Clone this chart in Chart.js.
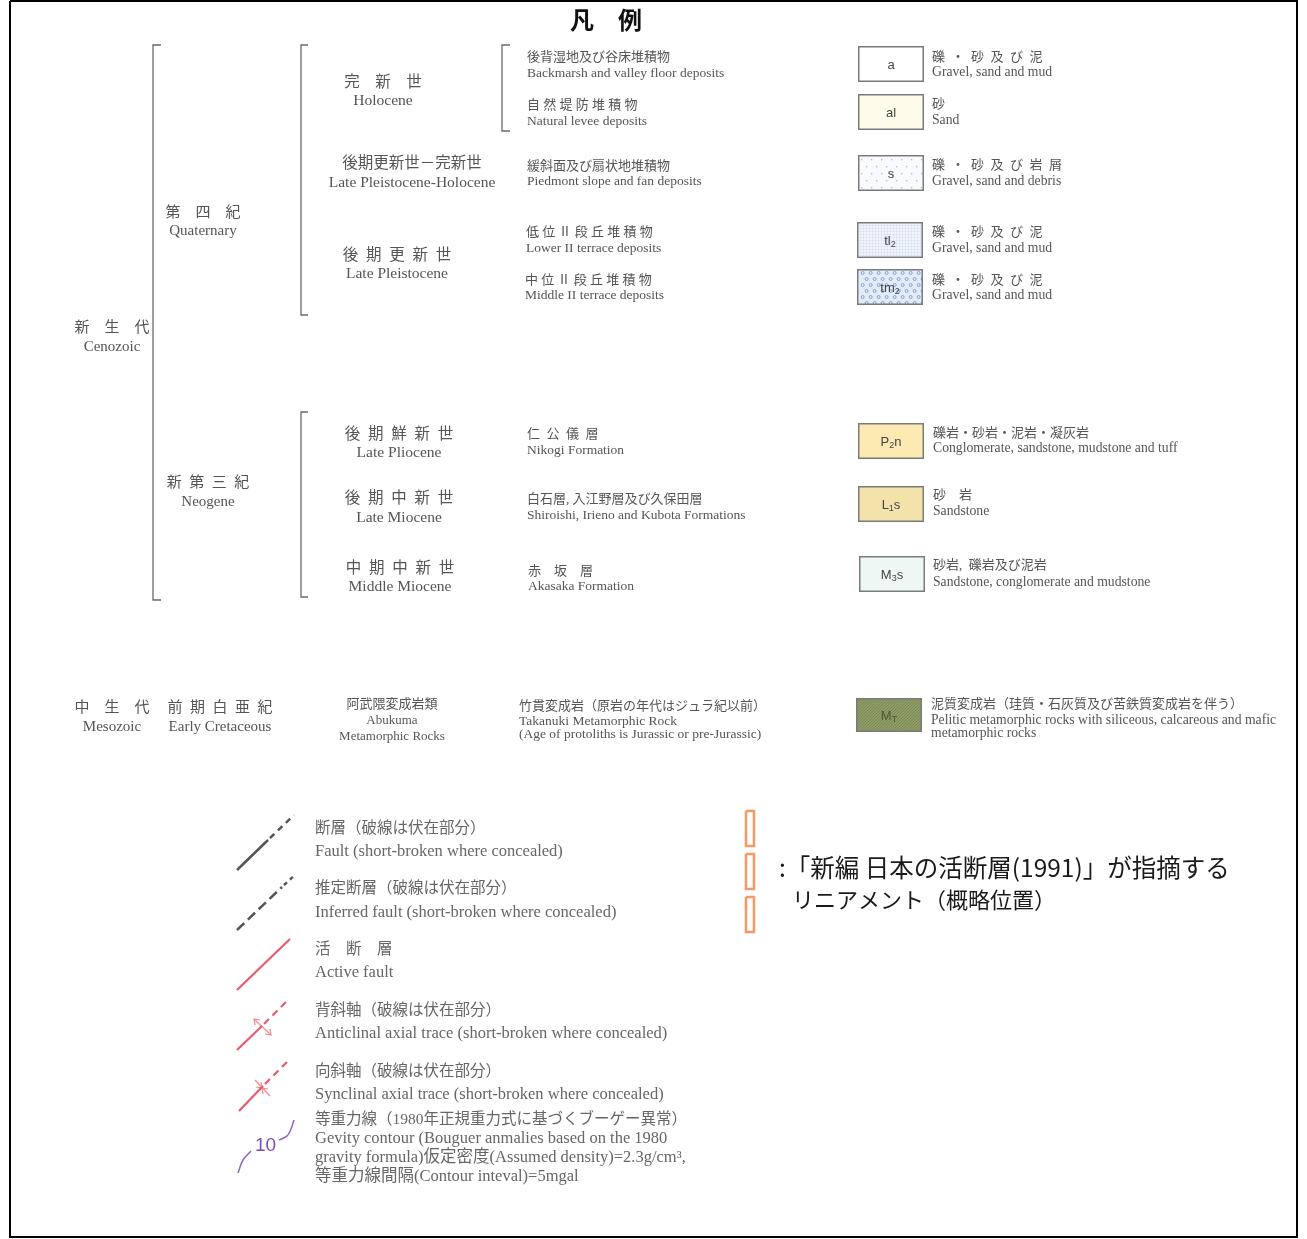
<!DOCTYPE html>
<html>
<head>
<meta charset="utf-8">
<script src="https://cdn.jsdelivr.net/npm/chart.js@4.4.1/dist/chart.umd.min.js"></script>
<style>
  html, body { margin: 0; padding: 0; background: #fff; }
  #wrap { width: 1307px; height: 1239px; position: relative; }
</style>
</head>
<body>
<div id="wrap"><canvas id="legendCanvas"></canvas></div>
<script>
// ---- legend content ----
var titleText = '凡　例';
var eraJa = ['新　生　代', '中　生　代'];
var eraEn = ['Cenozoic', 'Mesozoic'];
var periodJa = ['第　四　紀', '新  第  三  紀', '前  期  白  亜  紀'];
var periodEn = ['Quaternary', 'Neogene', 'Early Cretaceous'];
var epochJa = ['完　新　世', '後期更新世－完新世', '後  期  更  新  世', '後  期  鮮  新  世',
  '後  期  中  新  世', '中  期  中  新  世', '阿武隈変成岩類'];
var epochEn = ['Holocene', 'Late Pleistocene-Holocene', 'Late Pleistocene', 'Late Pliocene',
  'Late Miocene', 'Middle Miocene', 'Abukuma\nMetamorphic Rocks'];
var unitJa = ['後背湿地及び谷床堆積物', '自 然 堤 防 堆 積 物', '緩斜面及び扇状地堆積物',
  '低 位 Ⅱ 段 丘 堆 積 物', '中 位 Ⅱ 段 丘 堆 積 物', '仁  公  儀  層',
  '白石層, 入江野層及び久保田層', '赤　坂　層', '竹貫変成岩（原岩の年代はジュラ紀以前）'];
var unitEn = ['Backmarsh and valley floor deposits', 'Natural levee deposits',
  'Piedmont slope and fan deposits', 'Lower II terrace deposits', 'Middle II terrace deposits',
  'Nikogi Formation', 'Shiroishi, Irieno and Kubota Formations', 'Akasaka Formation',
  'Takanuki Metamorphic Rock\n(Age of protoliths is Jurassic or pre-Jurassic)'];
var unitCodes = ['a', 'al', 's', 'tl_2', 'tm_2', 'P_2n', 'L_1s', 'M_3s', 'M_T'];
var rockJa = ['礫  ・  砂  及  び  泥', '砂', '礫  ・  砂  及  び  岩  屑', '礫  ・  砂  及  び  泥',
  '礫  ・  砂  及  び  泥', '礫岩・砂岩・泥岩・凝灰岩', '砂　岩', '砂岩,  礫岩及び泥岩',
  '泥質変成岩（珪質・石灰質及び苦鉄質変成岩を伴う）'];
var rockEn = ['Gravel, sand and mud', 'Sand', 'Gravel, sand and debris', 'Gravel, sand and mud',
  'Gravel, sand and mud', 'Conglomerate, sandstone, mudstone and tuff', 'Sandstone',
  'Sandstone, conglomerate and mudstone',
  'Pelitic metamorphic rocks with siliceous, calcareous and mafic\nmetamorphic rocks'];
var symbolJa = ['断層（破線は伏在部分）', '推定断層（破線は伏在部分）', '活　断　層',
  '背斜軸（破線は伏在部分）', '向斜軸（破線は伏在部分）',
  '等重力線（1980年正規重力式に基づくブーゲー異常）'];
var symbolEn = ['Fault (short-broken where concealed)',
  'Inferred fault (short-broken where concealed)', 'Active fault',
  'Anticlinal axial trace (short-broken where concealed)',
  'Synclinal axial trace (short-broken where concealed)',
  'Gevity contour (Bouguer anmalies based on the 1980\ngravity formula)仮定密度(Assumed density)=2.3g/cm³,\n等重力線間隔(Contour inteval)=5mgal'];
var contourValue = '10';
var lineamentText = [':「新編 日本の活断層(1991)」が指摘する', 'リニアメント（概略位置）'];

// ---- layout (sheet units, y down) ----
var eraPos = [[112, 328, 347], [112, 708, 727]];
var periodPos = [[203, 213, 231], [208, 483, 502], [220, 708, 727]];
var epochPos = [[383, 83, 101], [412, 164, 183], [397, 256, 274], [399, 435, 453],
  [399, 499, 518], [400, 569, 587], [392, 705, 721]];
var unitPos = [[527, 58, 73], [527, 106, 121], [527, 167, 181], [526, 233, 248], [525, 281, 295],
  [527, 435, 450], [527, 500, 515], [528, 572, 586], [519, 707, 721]];
var swatchX = [891, 891, 891, 890, 890, 891, 891, 892, 889];
var swatchY = [64, 112, 173, 240, 287, 441, 504, 574, 715];
var rockPos = [[932, 58, 72], [932, 105, 120], [932, 166, 181], [932, 233, 248], [932, 281, 295],
  [933, 434, 448], [933, 496, 511], [933, 566, 582], [931, 705, 720]];
var symbolPos = [[315, 829, 852], [315, 889, 913], [315, 950, 973], [315, 1011, 1034],
  [315, 1072, 1095], [315, 1120, 1139]];

var swatchFill = ['#ffffff', '#fdfbe9', '#f8fafd', '#f1f5fb', '#e2ebf8', '#fde9b2', '#f3e3ab', '#eef7f3', '#8e9d66'];
var swatchPattern = ['', '', 'dots', 'grid', 'circles', '', '', '', 'hatch'];

var SERIF = '"Liberation Serif", "Noto Sans CJK JP", serif';
var GRAY = '#555';

function makeSwatch(code, fill, pattern) {
  var w = 66, h = (pattern === 'hatch') ? 34 : 36;
  var c = document.createElement('canvas');
  c.width = w; c.height = h;
  var g = c.getContext('2d');
  g.fillStyle = fill;
  g.fillRect(0, 0, w, h);
  var i, j;
  if (pattern === 'dots') {
    g.fillStyle = '#a9bcd9';
    for (j = 4; j < h; j += 7) {
      for (i = 3 + (j % 14 === 4 ? 0 : 5); i < w; i += 10) g.fillRect(i, j, 1.3, 1.3);
    }
  } else if (pattern === 'grid') {
    g.strokeStyle = 'rgba(160,185,220,0.35)';
    g.lineWidth = 0.5;
    for (i = 0; i < w; i += 3) { g.beginPath(); g.moveTo(i + 0.5, 0); g.lineTo(i + 0.5, h); g.stroke(); }
    for (j = 0; j < h; j += 3) { g.beginPath(); g.moveTo(0, j + 0.5); g.lineTo(w, j + 0.5); g.stroke(); }
  } else if (pattern === 'circles') {
    g.strokeStyle = '#86a4d6';
    g.lineWidth = 1;
    for (j = 4; j < h; j += 6) {
      for (i = 3 + ((j / 6) % 2) * 4; i < w; i += 8) {
        g.beginPath(); g.arc(i, j, 1.5, 0, Math.PI * 2); g.stroke();
      }
    }
  } else if (pattern === 'hatch') {
    g.strokeStyle = 'rgba(70,85,40,0.35)';
    g.lineWidth = 0.8;
    for (i = -h; i < w; i += 3) { g.beginPath(); g.moveTo(i, h); g.lineTo(i + h, 0); g.stroke(); }
  }
  g.strokeStyle = '#7a7a7a';
  g.lineWidth = 1.5;
  g.strokeRect(0.75, 0.75, w - 1.5, h - 1.5);
  // label with subscripts ("_" marks the next character as subscript)
  var parts = [], k;
  for (k = 0; k < code.length; k++) {
    if (code[k] === '_') { parts.push({ t: code[k + 1], sub: true }); k++; }
    else parts.push({ t: code[k], sub: false });
  }
  var big = '13px "Liberation Sans", Arial, sans-serif', small = '9px "Liberation Sans", Arial, sans-serif';
  var total = 0;
  parts.forEach(function (p) { g.font = p.sub ? small : big; p.w = g.measureText(p.t).width; total += p.w; });
  var x = w / 2 - total / 2, base = h / 2 + 4.5;
  g.fillStyle = pattern === 'hatch' ? '#4b5a33' : '#444';
  g.textBaseline = 'alphabetic';
  parts.forEach(function (p) {
    g.font = p.sub ? small : big;
    g.fillText(p.t, x, p.sub ? base + 2 : base);
    x += p.w;
  });
  return c;
}

var swatchImages = unitCodes.map(function (code, i) { return makeSwatch(code, swatchFill[i], swatchPattern[i]); });

// ---- text list ----
var textItems = [];
function addText(text, x, y, px, color, align, lh, family, weight) {
  String(text).split('\n').forEach(function (line, k) {
    textItems.push({ text: line, x: x, y: y + k * (lh || 0), font: (weight ? weight + ' ' : '') + px + 'px ' + (family || SERIF), color: color, align: align });
  });
}
var SANS_JP = '"Noto Sans CJK JP", sans-serif';
addText(titleText, 606, 20, 24, '#111', 'center', 0, SANS_JP, 'bold');
eraJa.forEach(function (t, i) { addText(t, eraPos[i][0], eraPos[i][1], 15, GRAY, 'center'); addText(eraEn[i], eraPos[i][0], eraPos[i][2], 15, GRAY, 'center'); });
periodJa.forEach(function (t, i) { addText(t, periodPos[i][0], periodPos[i][1], 15, GRAY, 'center'); addText(periodEn[i], periodPos[i][0], periodPos[i][2], 15, GRAY, 'center'); });
epochJa.forEach(function (t, i) {
  var px = i === 6 ? 13 : 15.5;
  addText(t, epochPos[i][0], epochPos[i][1], px, GRAY, 'center');
  addText(epochEn[i], epochPos[i][0], epochPos[i][2], px, GRAY, 'center', 16);
});
unitJa.forEach(function (t, i) { addText(t, unitPos[i][0], unitPos[i][1], 13, GRAY, 'left'); addText(unitEn[i], unitPos[i][0], unitPos[i][2], 13.5, GRAY, 'left', 13); });
rockJa.forEach(function (t, i) { addText(t, rockPos[i][0], rockPos[i][1], 13, GRAY, 'left'); addText(rockEn[i], rockPos[i][0], rockPos[i][2], 13.7, GRAY, 'left', 13); });
symbolJa.forEach(function (t, i) {
  addText(t, symbolPos[i][0], symbolPos[i][1], 15.5, '#666', 'left');
  addText(symbolEn[i], symbolPos[i][0], symbolPos[i][2], 16.5, '#666', 'left', 19);
});
addText(contourValue, 255, 1146, 19, '#7d4fb5', 'left', 0, '"Liberation Sans", Arial, sans-serif');
addText(lineamentText[0], 779, 868, 24.5, '#1a1a1a', 'left', 0, SANS_JP);
addText(lineamentText[1], 792, 900, 22, '#1a1a1a', 'left', 0, SANS_JP);

// ---- line work ----
function pts(arr) { return arr.map(function (p) { return { x: p[0], y: p[1] }; }); }
function path(points, color, width, dash, tension) {
  return {
    type: 'line', data: pts(points), borderColor: color, borderWidth: width,
    borderDash: dash || [], tension: tension || 0, pointRadius: 0, fill: false,
    showLine: true, clip: false, borderJoinStyle: 'miter', borderCapStyle: 'butt'
  };
}
var BR = '#6a6a6a', RED = '#e85a6e', PINK = '#ef8c92', PURPLE = '#8c62c4', ORANGE = '#f59a66';
var lineSets = [
  path([[10, 1], [1297, 1], [1297, 1237], [10, 1237], [10, 1]], '#000', 2),
  path([[161, 45], [153, 45], [153, 600], [161, 600]], BR, 1.3),
  path([[308, 45], [301, 45], [301, 315], [308, 315]], BR, 1.3),
  path([[510, 45], [502, 45], [502, 131], [510, 131]], BR, 1.3),
  path([[308, 412], [301, 412], [301, 597], [308, 597]], BR, 1.3),
  // fault
  path([[237, 870], [268, 840]], '#555', 2.5),
  path([[270, 838], [294, 815]], '#555', 2.5, [6, 5]),
  // inferred fault
  path([[237, 930], [282, 887]], '#555', 2.5, [10, 5]),
  path([[284, 885], [295, 875]], '#555', 2.5, [4, 4]),
  // active fault
  path([[237, 990], [290, 939]], RED, 2.2),
  // anticline
  path([[237, 1050], [262, 1026]], RED, 2.2),
  path([[264, 1024], [288, 1000]], RED, 2.2, [7, 5]),
  path([[254, 1019], [271, 1035]], PINK, 1.2),
  path([[255, 1025], [254, 1019], [260, 1020]], PINK, 1.2),
  path([[270, 1029], [271, 1035], [265, 1034]], PINK, 1.2),
  // syncline
  path([[239, 1111], [263, 1086]], RED, 2.2),
  path([[265, 1084], [288, 1061]], RED, 2.2, [7, 5]),
  path([[255, 1080], [270, 1096]], PINK, 1.2),
  path([[261, 1082], [262, 1088], [256, 1087]], PINK, 1.2),
  path([[263, 1094], [262, 1088], [268, 1089]], PINK, 1.2),
  // gravity contour
  path([[238, 1173], [243, 1160], [251, 1151]], PURPLE, 1.5, null, 0.4),
  path([[279, 1140], [287, 1136], [291, 1129], [294, 1120]], PURPLE, 1.5, null, 0.4),
  // lineament boxes
  path([[746, 811], [754, 811], [754, 846], [746, 846], [746, 811]], ORANGE, 2.5),
  path([[746, 854], [754, 854], [754, 889], [746, 889], [746, 854]], ORANGE, 2.5),
  path([[746, 897], [754, 897], [754, 932], [746, 932], [746, 897]], ORANGE, 2.5)
];

var swatchSet = {
  type: 'line', label: 'units', showLine: false, clip: false,
  data: swatchX.map(function (x, i) { return { x: x, y: swatchY[i] }; }),
  pointStyle: swatchImages, pointRadius: 1, pointHoverRadius: 1, pointBorderWidth: 0
};

var textPlugin = {
  id: 'legendText',
  afterDatasetsDraw: function (chart) {
    var ctx = chart.ctx, xs = chart.scales.x, ys = chart.scales.y;
    ctx.save();
    ctx.textBaseline = 'middle';
    textItems.forEach(function (t) {
      ctx.font = t.font;
      ctx.fillStyle = t.color;
      ctx.textAlign = t.align;
      ctx.fillText(t.text, xs.getPixelForValue(t.x), ys.getPixelForValue(t.y));
    });
    ctx.restore();
  }
};

new Chart(document.getElementById('legendCanvas').getContext('2d'), {
  type: 'line',
  data: { datasets: lineSets.concat([swatchSet]) },
  options: {
    responsive: true,
    maintainAspectRatio: false,
    animation: false,
    events: [],
    layout: { padding: 0, autoPadding: false },
    plugins: { legend: { display: false }, tooltip: { enabled: false } },
    scales: {
      x: { type: 'linear', min: 0, max: 1307, display: false },
      y: { type: 'linear', min: 0, max: 1239, reverse: true, display: false }
    }
  },
  plugins: [textPlugin]
});
</script>
</body>
</html>
